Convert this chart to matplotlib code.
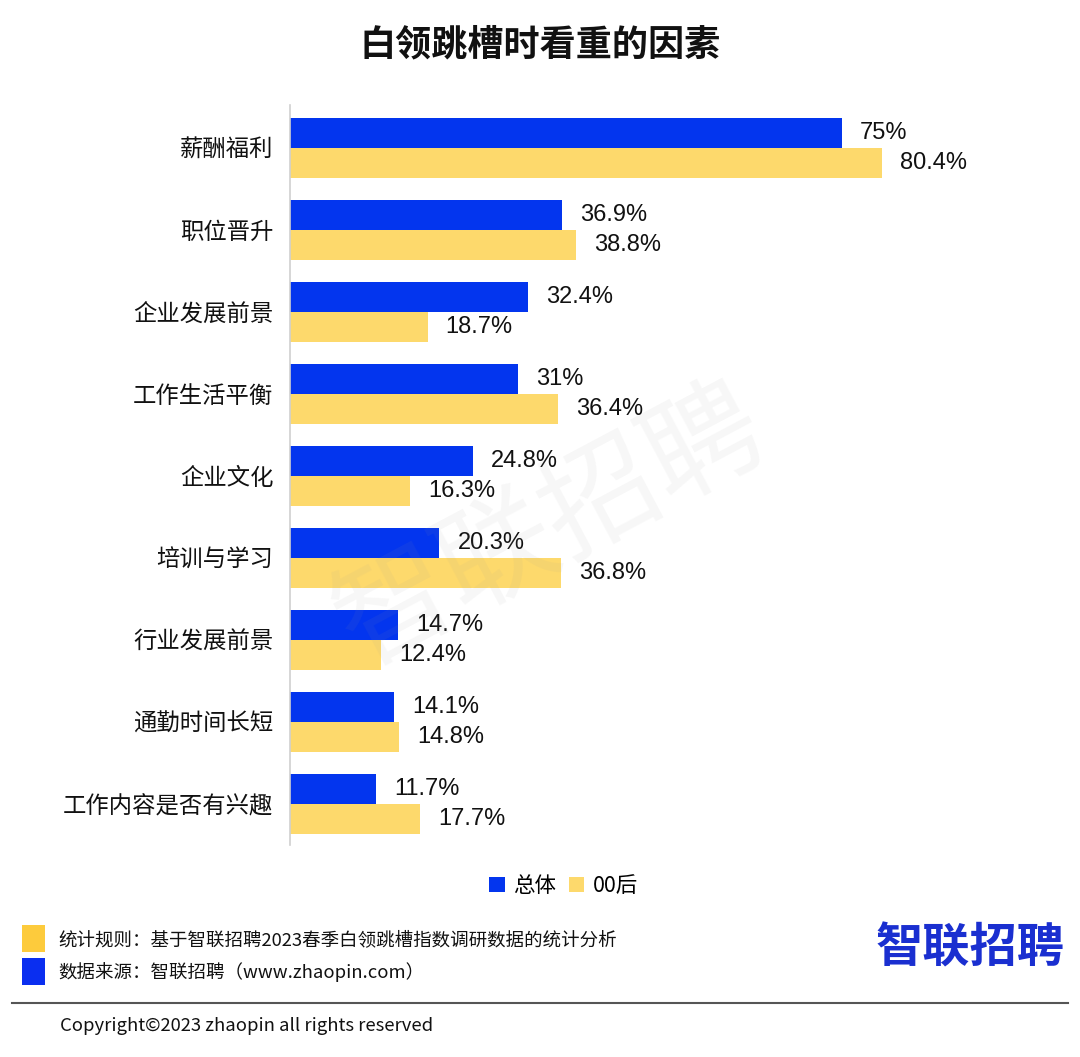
import matplotlib
matplotlib.use("Agg")
import matplotlib.pyplot as plt
from matplotlib.patches import Rectangle, Patch
from matplotlib.lines import Line2D

plt.rcParams['font.family'] = ['Noto Sans CJK SC', 'DejaVu Sans']

categories = ["薪酬福利", "职位晋升", "企业发展前景", "工作生活平衡", "企业文化",
              "培训与学习", "行业发展前景", "通勤时间长短", "工作内容是否有兴趣"]
overall = [75, 36.9, 32.4, 31, 24.8, 20.3, 14.7, 14.1, 11.7]
gen00 = [80.4, 38.8, 18.7, 36.4, 16.3, 36.8, 12.4, 14.8, 17.7]
series_names = ["总体", "00后"]

BLUE = "#0335EE"
YELLOW = "#FDD96C"
NUMFONT = ['Liberation Sans', 'DejaVu Sans']

fig = plt.figure(figsize=(10.8, 10.57), dpi=100)
fig.patch.set_facecolor("white")
ax = fig.add_axes([290/1080, 1-845/1057, 710/1080, 740/1057])

h = 0.366
ys = list(range(len(categories)))
ax.barh([y - h/2 for y in ys], overall, height=h, color=BLUE)
ax.barh([y + h/2 for y in ys], gen00, height=h, color=YELLOW)

for y, v in zip(ys, overall):
    ax.annotate(f"{v:g}%", (v, y - h/2), xytext=(13, 0), textcoords="offset points",
                va="center", ha="left", fontsize=17, color="#111111", family=NUMFONT)
for y, v in zip(ys, gen00):
    ax.annotate(f"{v:g}%", (v, y + h/2), xytext=(13, 0), textcoords="offset points",
                va="center", ha="left", fontsize=17, color="#111111", family=NUMFONT)

ax.set_xlim(0, 710/7.36)
ax.set_ylim(len(categories) - 0.5, -0.524)
ax.set_yticks(ys)
ax.set_yticklabels(categories, fontsize=16.8, color="#111111")
ax.tick_params(axis="y", length=0, pad=12)
ax.set_xticks([])
for s in ["top", "right", "bottom"]:
    ax.spines[s].set_visible(False)
ax.spines["left"].set_color("#d0d0d0")
ax.spines["left"].set_linewidth(1.2)

# title
fig.text(0.5, 1-45/1057, "白领跳槽时看重的因素", ha="center", va="center",
         fontsize=26, fontweight="bold", color="#111111")

# watermark
fig.text(0.51, 0.5, "智联招聘", ha="center", va="center", rotation=28,
         fontsize=84, color="#999999", alpha=0.08)

# legend
handles = [Patch(facecolor=BLUE, edgecolor="none"), Patch(facecolor=YELLOW, edgecolor="none")]
fig.legend(handles, series_names, loc="center", bbox_to_anchor=(0.522, 1-886/1057),
           ncol=2, frameon=False, fontsize=15.5, handlelength=0.7, handleheight=0.7,
           handletextpad=0.4, columnspacing=0.6)

# footer
fig.patches.append(Rectangle((22/1080, 1-952/1057), 23/1080, 27/1057,
                             transform=fig.transFigure, facecolor="#FDCB3C", edgecolor="none"))
fig.patches.append(Rectangle((22/1080, 1-985/1057), 23/1080, 27/1057,
                             transform=fig.transFigure, facecolor="#0A2EF0", edgecolor="none"))
fig.text(58/1080, 1-940/1057, "统计规则：基于智联招聘2023春季白领跳槽指数调研数据的统计分析",
         ha="left", va="center", fontsize=13.3, color="#111111")
fig.text(58/1080, 1-972/1057, "数据来源：智联招聘（www.zhaopin.com）",
         ha="left", va="center", fontsize=13.3, color="#111111")
fig.text(970/1080, 1-948/1057, "智联招聘", ha="center", va="center",
         fontsize=34, fontweight="bold", color="#1A2FD0")
fig.add_artist(Line2D([12/1080, 1068/1080], [1-1003/1057, 1-1003/1057],
                      transform=fig.transFigure, color="#555555", lw=1.5))
fig.text(60/1080, 1-1026/1057, "Copyright©2023 zhaopin all rights reserved",
         ha="left", va="center", fontsize=13.3, color="#111111")

fig.savefig("out.png", dpi=100)
